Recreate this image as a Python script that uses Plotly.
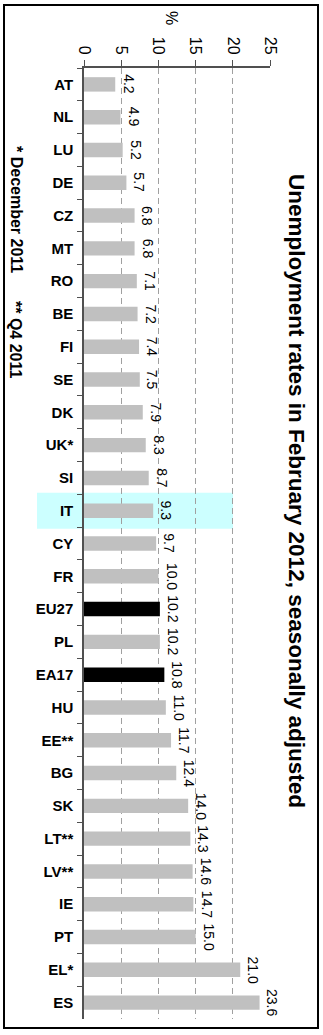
import plotly.graph_objects as go

countries = ["AT", "NL", "LU", "DE", "CZ", "MT", "RO", "BE", "FI", "SE", "DK", "UK*",
             "SI", "IT", "CY", "FR", "EU27", "PL", "EA17", "HU", "EE**", "BG", "SK",
             "LT**", "LV**", "IE", "PT", "EL*", "ES"]
rates = [4.2, 4.9, 5.2, 5.7, 6.8, 6.8, 7.1, 7.2, 7.4, 7.5, 7.9, 8.3,
         8.7, 9.3, 9.7, 10.0, 10.2, 10.2, 10.8, 11.0, 11.7, 12.4, 14.0,
         14.3, 14.6, 14.7, 15.0, 21.0, 23.6]
aggregates = ["EU27", "EA17"]
highlight = "IT"
x_ticks = [0, 5, 10, 15, 20, 25]

title_text = "Unemployment rates in February 2012, seasonally adjusted"
axis_title = "%"
note1 = "* December 2011"
note2 = "** Q4 2011"

W, H = 323, 1035
L, R, T, B = 84, 53, 68, 16
FONT = "Arial, Liberation Sans, sans-serif"

def px_x(p):
    return (p - L) / (W - L - R)

def px_y(p):
    return 1 - (p - T) / (H - T - B)

n = len(countries)

def cat_y(v):
    # reversed category axis: top = -0.5, bottom = n-0.5
    return ((n - 0.5) - v) / n

colors = ["#000000" if c in aggregates else "#C0C0C0" for c in countries]

fig = go.Figure()
fig.add_trace(go.Bar(
    x=rates, y=countries, orientation="h",
    marker=dict(color=colors, line=dict(width=0)),
    hoverinfo="skip",
))

annotations = []
for c, v in zip(countries, rates):
    annotations.append(dict(
        x=v, y=c, xref="x", yref="y", text=f"{v:.1f}", showarrow=False,
        textangle=90, xanchor="center", yanchor="middle", xshift=13,
        font=dict(family=FONT, size=14, color="#000000"),
    ))

annotations += [
    dict(x=px_x(297), y=px_y(491), xref="paper", yref="paper",
         text=f"<b>{title_text}</b>", showarrow=False, textangle=90,
         xanchor="center", yanchor="middle",
         font=dict(family=FONT, size=22.5, color="#000000")),
    dict(x=px_x(172), y=px_y(18), xref="paper", yref="paper",
         text=axis_title, showarrow=False, textangle=90,
         xanchor="center", yanchor="middle",
         font=dict(family=FONT, size=16, color="#000000")),
    dict(x=px_x(16), y=px_y(209), xref="paper", yref="paper",
         text=f"<b>{note1}</b>", showarrow=False, textangle=90,
         xanchor="center", yanchor="middle",
         font=dict(family=FONT, size=16, color="#000000")),
    dict(x=px_x(16), y=px_y(340), xref="paper", yref="paper",
         text=f"<b>{note2}</b>", showarrow=False, textangle=90,
         xanchor="center", yanchor="middle",
         font=dict(family=FONT, size=16, color="#000000")),
]

hi = countries.index(highlight)
shapes = [
    dict(type="rect", xref="paper", yref="paper",
         x0=px_x(37), x1=px_x(233), y0=cat_y(hi + 0.55), y1=cat_y(hi - 0.55),
         fillcolor="#CCFFFF", line=dict(width=0), layer="below"),
    dict(type="rect", xref="paper", yref="paper",
         x0=px_x(4), x1=px_x(318), y0=px_y(1028), y1=px_y(5),
         fillcolor="rgba(0,0,0,0)", line=dict(color="#000000", width=2)),
]

fig.update_layout(
    width=W, height=H,
    margin=dict(l=L, r=R, t=T, b=B, pad=0),
    paper_bgcolor="#FFFFFF", plot_bgcolor="rgba(0,0,0,0)",
    showlegend=False, bargap=0.56,
    annotations=annotations, shapes=shapes,
    font=dict(family=FONT, color="#000000"),
)
fig.update_xaxes(
    side="top", range=[0, 25], tickvals=x_ticks, ticktext=[str(t) for t in x_ticks],
    tickangle=90, ticks="outside", ticklen=6, tickcolor="#505050", tickwidth=1,
    showline=True, linecolor="#505050", linewidth=1.5,
    showgrid=True, gridcolor="#A0A0A0", gridwidth=1, griddash="6px,4px",
    zeroline=False, tickfont=dict(family=FONT, size=16, color="#000000"),
    fixedrange=True,
)
fig.update_yaxes(
    type="category", categoryorder="array", categoryarray=countries,
    range=[n - 0.5, -0.5], tickson="boundaries", ticks="outside", ticklen=5,
    tickcolor="#505050", tickwidth=1, showline=True, linecolor="#505050", linewidth=1.5,
    showgrid=False, zeroline=False, ticklabelstandoff=6,
    tickfont=dict(family=FONT, size=15, color="#000000", weight="bold"),
    fixedrange=True,
)

fig.write_html("out.html")
